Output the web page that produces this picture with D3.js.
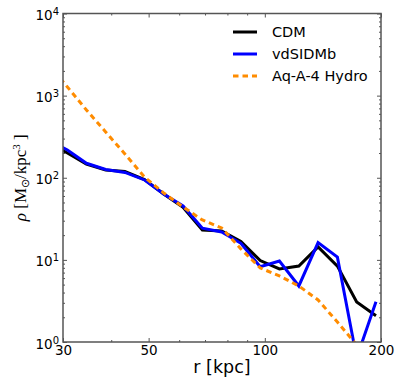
<!DOCTYPE html>
<html>
<head>
<meta charset="utf-8">
<script src="https://cdn.jsdelivr.net/npm/d3@7"></script>
<style>
  body { margin: 0; background: #fff; }
  svg { display: block; }
</style>
</head>
<body>
<svg id="chart" width="399" height="386"></svg>
<script>
// density profiles
var radii = [27.4, 30.8, 34.5, 38.7, 43.4, 48.8, 54.7, 61.4, 68.9, 77.3, 86.7, 97.3, 109.1, 122.5, 137.4, 154.2, 173.0, 194.1];
var cdm = [273, 200, 147, 124.5, 119, 95, 63.5, 43.7, 23.1, 22.5, 16.7, 9.8, 7.75, 8.4, 14.4, 8.4, 3.07, 2.09];
var vdsidmb = [293, 218, 150, 126, 116, 94, 63.5, 45.4, 24.3, 21.9, 15.9, 8.26, 9.7, 4.81, 16.2, 10.8, 0.64, 3.1];
var hydro = [2430, 1276, 669, 361, 195, 102, 65.3, 44.1, 30.6, 24.5, 13.6, 7.97, 6.37, 4.81, 3.25, 1.75, 0.92];

var seriesNames = ["CDM", "vdSIDMb", "Aq-A-4 Hydro"];
var xMajor = [30, 50, 100, 200];
var xMinor = [40, 60, 70, 80, 90];
var yMajor = [1, 10, 100, 1000, 10000];

var margin = {left: 63, top: 13.5, right: 18, bottom: 44};
var width = 399 - margin.left - margin.right;
var height = 386 - margin.top - margin.bottom;

var svg = d3.select("#chart");
var g = svg.append("g").attr("transform", "translate(" + margin.left + "," + margin.top + ")");

var x = d3.scaleLog().domain([30, 200]).range([0, width]);
var y = d3.scaleLog().domain([1, 10000]).range([height, 0]);

var yMinor = [];
yMajor.slice(0, -1).forEach(function(d) {
  for (var k = 2; k <= 9; k++) yMinor.push(d * k);
});

svg.append("defs").append("clipPath").attr("id", "clip")
  .append("rect").attr("width", width).attr("height", height);

// lines
var series = [
  {name: seriesNames[0], values: cdm, color: "#000000", dash: null},
  {name: seriesNames[1], values: vdsidmb, color: "#0000ff", dash: null},
  {name: seriesNames[2], values: hydro, color: "#ff8c00", dash: "5.5,4"}
];

var line = d3.line()
  .x(function(d) { return x(d[0]); })
  .y(function(d) { return y(d[1]); });

var plot = g.append("g").attr("clip-path", "url(#clip)");
series.forEach(function(s) {
  var pts = s.values.map(function(v, i) { return [radii[i], v]; });
  plot.append("path")
    .datum(pts)
    .attr("d", line)
    .attr("fill", "none")
    .attr("stroke", s.color)
    .attr("stroke-width", 3)
    .attr("stroke-linejoin", "miter")
    .attr("stroke-dasharray", s.dash);
});

// axes, ticks pointing inward on all four sides
var axisColor = "#555";
function styleAxis(sel) {
  sel.select(".domain").remove();
  sel.selectAll("line").attr("stroke", axisColor).attr("stroke-width", 1);
  sel.selectAll("text").attr("font-family", "DejaVu Sans").attr("font-size", 13.5).attr("fill", "#000");
}

g.append("g").attr("transform", "translate(0," + height + ")")
  .call(d3.axisBottom(x).tickValues(xMajor).tickSize(-4).tickPadding(3).tickFormat(d3.format("d")))
  .call(styleAxis);
g.append("g").attr("transform", "translate(0," + height + ")")
  .call(d3.axisBottom(x).tickValues(xMinor).tickSize(-2).tickFormat(""))
  .call(styleAxis);
g.append("g")
  .call(d3.axisTop(x).tickValues(xMajor).tickSize(-4).tickFormat(""))
  .call(styleAxis);
g.append("g")
  .call(d3.axisTop(x).tickValues(xMinor).tickSize(-2).tickFormat(""))
  .call(styleAxis);

var yAxis = g.append("g")
  .call(d3.axisLeft(y).tickValues(yMajor).tickSize(-4).tickPadding(4).tickFormat(""))
  .call(styleAxis);
g.append("g")
  .call(d3.axisLeft(y).tickValues(yMinor).tickSize(-2).tickFormat(""))
  .call(styleAxis);
g.append("g").attr("transform", "translate(" + width + ",0)")
  .call(d3.axisRight(y).tickValues(yMajor).tickSize(-4).tickFormat(""))
  .call(styleAxis);
g.append("g").attr("transform", "translate(" + width + ",0)")
  .call(d3.axisRight(y).tickValues(yMinor).tickSize(-2).tickFormat(""))
  .call(styleAxis);

// y tick labels as 10^n
yAxis.selectAll(".tick").each(function(d) {
  var t = d3.select(this).select("text")
    .attr("x", -4).attr("dy", "0.45em")
    .attr("text-anchor", "end");
  t.text(null);
  t.append("tspan").text("10");
  t.append("tspan").attr("dy", "-0.5em").attr("font-size", 10).text(Math.round(Math.log10(d)));
});

// frame
g.append("rect")
  .attr("width", width).attr("height", height)
  .attr("fill", "none").attr("stroke", axisColor).attr("stroke-width", 1.5);

// axis labels
g.append("text")
  .attr("x", width / 2).attr("y", height + 31)
  .attr("text-anchor", "middle")
  .attr("font-family", "DejaVu Sans").attr("font-size", 17.5)
  .text("r [kpc]");

var yl = svg.append("text")
  .attr("transform", "translate(26," + (margin.top + height / 2) + ") rotate(-90)")
  .attr("text-anchor", "middle")
  .attr("font-family", "Liberation Serif").attr("font-size", 17);
yl.append("tspan").attr("font-style", "italic").text("ρ");
yl.append("tspan").text(" [M");
yl.append("tspan").attr("font-size", 11).attr("dy", 3).text("⊙");
yl.append("tspan").attr("dy", -3).text("/kpc");
yl.append("tspan").attr("font-size", 11).attr("dy", -6).text("3");
yl.append("tspan").attr("dy", 6).text(" ]");

// legend
var legend = svg.append("g").attr("transform", "translate(233,32)");
series.forEach(function(s, i) {
  var row = legend.append("g").attr("transform", "translate(0," + i * 22 + ")");
  row.append("line")
    .attr("x1", 0).attr("x2", 24).attr("y1", 0).attr("y2", 0)
    .attr("stroke", s.color).attr("stroke-width", 3)
    .attr("stroke-dasharray", s.dash);
  row.append("text")
    .attr("x", 39).attr("y", 0).attr("dy", "0.36em")
    .attr("font-family", "DejaVu Sans").attr("font-size", 14.5)
    .text(s.name);
});
</script>
</body>
</html>
